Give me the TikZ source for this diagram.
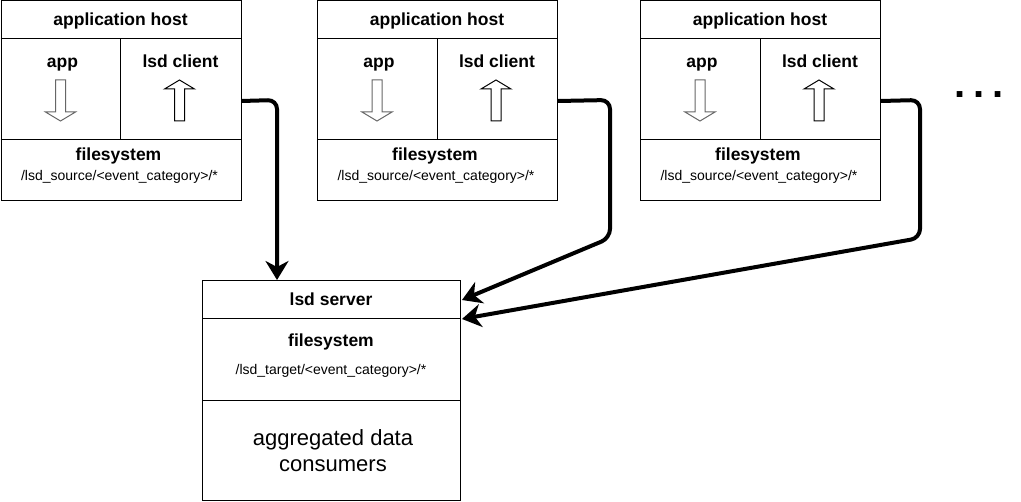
\documentclass[tikz,border=0pt]{standalone}
\usepackage{fontspec}
\setmainfont{Liberation Sans}
\usetikzlibrary{arrows.meta,calc}
\tikzset{
  hostbox/.style={draw=black, line width=1pt, minimum width=240pt, minimum height=200pt, inner sep=0pt, anchor=north west},
  srvbox/.style={draw=black, line width=1pt, minimum width=258pt, minimum height=220pt, inner sep=0pt, anchor=north west},
  divline/.style={draw=black, line width=1pt},
  bt/.style={font=\fontsize{17.5}{21}\selectfont\bfseries, inner sep=0pt, anchor=base},
  pth/.style={font=\fontsize{14}{17}\selectfont, inner sep=0pt, anchor=base},
  bigt/.style={font=\fontsize{22}{25}\selectfont, inner sep=0pt, anchor=base},
  conn/.style={draw=black, line width=4pt, rounded corners=9pt, -{Stealth[length=19pt,width=23pt,inset=6pt]}},
  hollowdown/.style={draw=black!60, line width=1pt, fill=white},
  hollowup/.style={draw=black, line width=1pt, fill=white}
}
\begin{document}
\begin{tikzpicture}[x=1pt,y=-1pt]
\useasboundingbox (0,0) rectangle (1021,502);
\fill[white] (0,0) rectangle (1021,502);
\foreach \i/\L in {1/0.5,2/317,3/640}{
  \node[hostbox] (h\i) at (\L,0.5) {};
  \draw[divline] (\L,39) -- (\L+240,39);
  \draw[divline] (\L,140) -- (\L+240,140);
  \draw[divline] (\L+120,39) -- (\L+120,140);
  \node[bt] (ht\i) at (\L+120,26) {application host};
  \node[bt] (ha\i) at (\L+62,68) {app};
  \node[bt] (hc\i) at (\L+180,68) {lsd client};
  \node[bt] (hf\i) at (\L+118,161) {filesystem};
  \node[pth] (hp\i) at (\L+119,181) {/lsd\_source/<event\_category>/*};
  \draw[hollowdown] (\L+55,80) -- (\L+65,80) -- (\L+65,112) -- (\L+75,112) -- (\L+60,121) -- (\L+45,112) -- (\L+55,112) -- cycle;
  \draw[hollowup] (\L+179,80) -- (\L+194,89) -- (\L+184,89) -- (\L+184,121) -- (\L+174,121) -- (\L+174,89) -- (\L+164,89) -- cycle;
}
\node[srvbox] (s) at (202,280) {};
\draw[divline] (202,319) -- (460,319);
\draw[divline] (202,401) -- (460,401);
\node[bt] (st) at (331,306) {lsd server};
\node[bt] (sf) at (331,347) {filesystem};
\node[pth] (sp) at (331,375) {/lsd\_target/<event\_category>/*};
\node[bigt] (sc1) at (333,446) {aggregated data};
\node[bigt] (sc2) at (333,472) {consumers};
\node[font=\fontsize{40}{40}\selectfont\bfseries, inner sep=0pt] (dots) at (979,95) {.\hspace{8pt}.\hspace{8pt}.};
\draw[conn] (h1.east) -- (277,100) -- ($(s.north west)+(75,0)$);
\draw[conn] (h2.east) -- (610,100) -- (610,238) -- ($(s.north east)+(1,20)$);
\draw[conn] (h3.east) -- (920,100) -- (920,238) -- ($(s.north east)+(1,39)$);
\end{tikzpicture}
\end{document}
